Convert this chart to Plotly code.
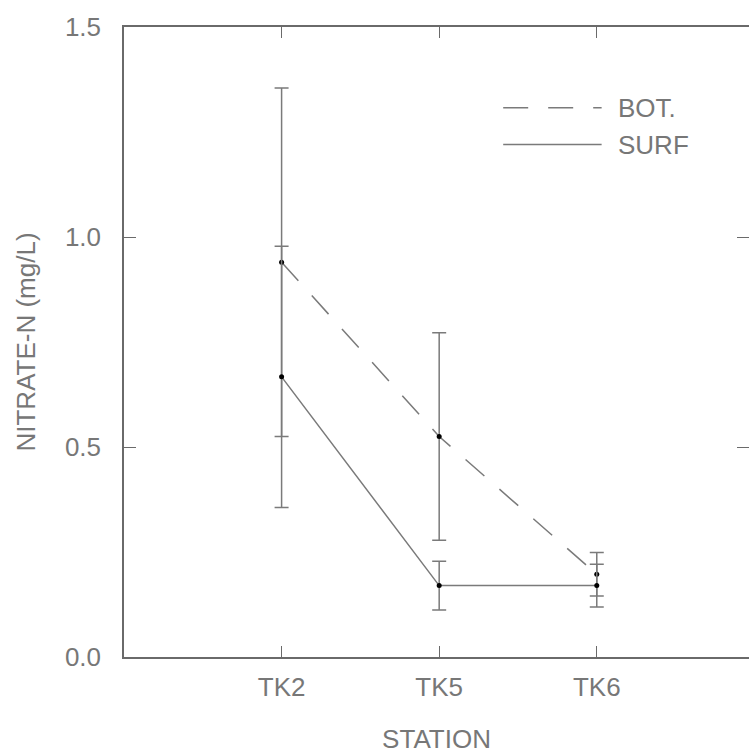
import plotly.graph_objects as go

stations = ["TK2", "TK5", "TK6"]
bot_mean = [0.940, 0.525, 0.197]
bot_err = [0.415, 0.247, 0.052]
surf_mean = [0.667, 0.170, 0.170]
surf_err = [0.311, 0.058, 0.051]
y_ticks = [0.0, 0.5, 1.0, 1.5]

FONT = "Liberation Sans, Arial, sans-serif"
TXT = "#777777"
LINE = "#7a7a7a"
AX = "#6a6a6a"

fig = go.Figure()

fig.add_trace(go.Scatter(
    x=stations, y=bot_mean, mode="lines+markers", name="BOT.",
    line=dict(color=LINE, width=1.5, dash="25px,20px"),
    marker=dict(color="black", size=5),
    error_y=dict(type="data", array=bot_err, visible=True, color=LINE,
                 thickness=1.5, width=7),
    showlegend=False,
))
fig.add_trace(go.Scatter(
    x=stations, y=surf_mean, mode="lines+markers", name="SURF",
    line=dict(color=LINE, width=1.5),
    marker=dict(color="black", size=5),
    error_y=dict(type="data", array=surf_err, visible=True, color=LINE,
                 thickness=1.5, width=7),
    showlegend=False,
))
# empty helper trace so the right-hand tick axis gets drawn
fig.add_trace(go.Scatter(
    x=stations, y=[None] * len(stations), yaxis="y2", mode="lines",
    showlegend=False, hoverinfo="skip",
))

# manual legend (long line samples like the original)
legend_items = [("BOT.", "25px,20px", 0.8717), ("SURF", "solid", 0.8134)]
for label, dash, yp in legend_items:
    fig.add_shape(type="line", xref="paper", yref="paper",
                  x0=0.6067, x1=0.7642, y0=yp, y1=yp,
                  line=dict(color=LINE, width=1.5, dash=dash))
    fig.add_annotation(xref="paper", yref="paper", x=0.7866, y=yp,
                       text=label, showarrow=False, xanchor="left",
                       yanchor="middle",
                       font=dict(family=FONT, size=26, color=TXT))

fig.update_layout(
    width=749, height=754,
    margin=dict(l=124, r=0, t=27, b=97),
    paper_bgcolor="white", plot_bgcolor="white",
    font=dict(family=FONT, size=26, color=TXT),
)
fig.update_xaxes(
    type="category", range=[-1, 2.966], automargin=False,
    showline=True, linecolor=AX, linewidth=1.5, mirror="ticks",
    ticks="inside", ticklen=11, tickwidth=1.2, tickcolor=AX,
    showgrid=False, zeroline=False,
    tickfont=dict(family=FONT, size=26, color=TXT),
    ticklabelstandoff=6,
    title=dict(text="STATION", standoff=40,
               font=dict(family=FONT, size=26, color=TXT)),
)
fig.update_yaxes(
    range=[0, 1.5], tickvals=y_ticks, tickformat=".1f", automargin=False,
    showline=True, linecolor=AX, linewidth=1.5, mirror=False,
    ticks="inside", ticklen=12, tickwidth=1.2, tickcolor=AX,
    showgrid=False, zeroline=False,
    tickfont=dict(family=FONT, size=26, color=TXT),
    ticklabelstandoff=16,
    title=dict(text="NITRATE-N (mg/L)", standoff=22,
               font=dict(family=FONT, size=26, color=TXT)),
)
# right-hand inward ticks without a frame line (the original is cropped there)
fig.update_layout(yaxis2=dict(
    overlaying="y", side="right", range=[0, 1.5], tickvals=y_ticks,
    ticks="inside", ticklen=12, tickwidth=1.2, tickcolor=AX, automargin=False,
    showticklabels=False, showline=False, showgrid=False, zeroline=False,
))

fig.write_html("out.html")
